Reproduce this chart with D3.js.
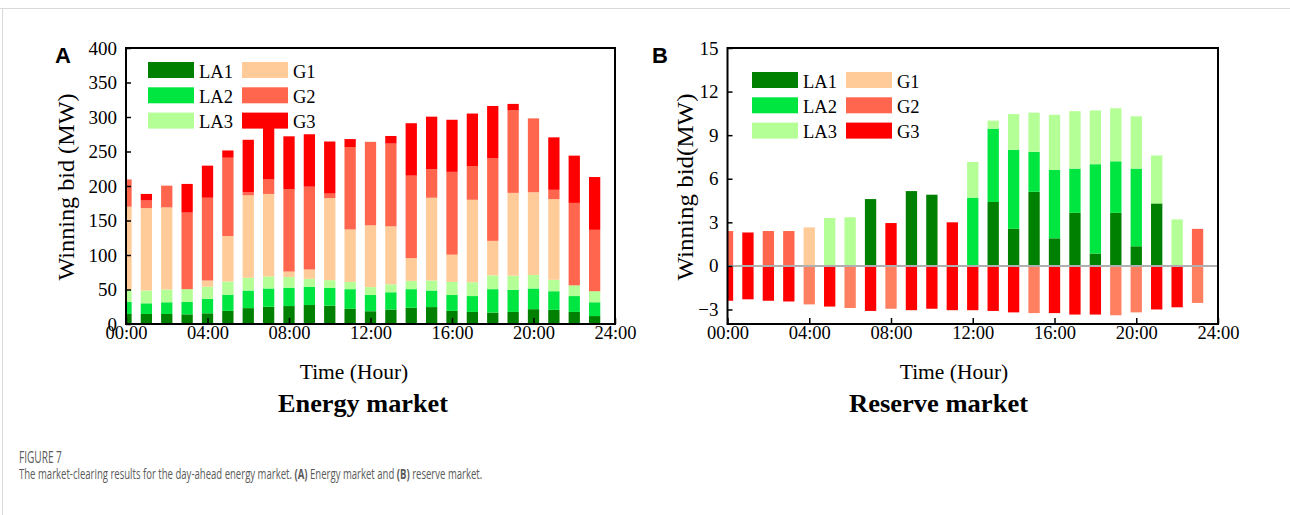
<!DOCTYPE html>
<html><head><meta charset="utf-8">
<script src="https://cdn.jsdelivr.net/npm/d3@7/dist/d3.min.js"></script>
<style>
html,body{margin:0;padding:0;background:#fff;}
svg{display:block;}
</style></head>
<body>
<svg id="chart" width="1290" height="515"></svg>
<script>
// ---------- DATA ----------
const hours = [0,1,2,3,4,5,6,7,8,9,10,11,12,13,14,15,16,17,18,19,20,21,22,23];
const xTickValues = [0,4,8,12,16,20,24];
const xTickLabels = ["00:00","04:00","08:00","12:00","16:00","20:00","24:00"];
const yTicksA = [0,50,100,150,200,250,300,350,400];
const yTicksB = [-3,0,3,6,9,12,15];
const seriesNames = ["LA1","LA2","LA3","G1","G2","G3"];

// Panel A: energy market (MW)
const energyLA1 = [14.5,14.5,14.5,14,15.5,19,23,25,26,27.5,26.5,22,18.5,21,23.5,24.5,19,17.5,16.5,17.5,21.5,20.5,17.5,11.5];
const energyLA2 = [17.5,15.5,17,18,21,23.5,25.5,26.5,26.5,26.5,26,28.5,23.5,25,27,24,23,23,34,32,30,27,23,20];
const energyLA3 = [18,18.5,18.5,18.5,17.5,19,18.5,17.5,15.5,11.5,11,10.5,11.5,11.5,12,14.5,19,20,20,20.5,19.5,16.5,15.5,16];
const energyG1  = [120,119.5,119,0,9,66,119.5,119.5,8,13.5,119,76,89.5,84,33,120,39.5,119.5,50,120,120,117,0,0];
const energyG2  = [39.5,11,31.5,111,120,113.5,4.5,21,119.5,120,6.5,119.5,121,120,119.5,41.5,120,49,119.5,120,107,13.5,119.5,89];
const energyG3  = [0,9.5,0,41.5,46.5,10.5,76,80,76.5,76,75.5,11.5,0,11,76,76,75.5,76,76,9,0,76,68.5,76.5];

// Panel B: reserve market (MW) — upward (positive) and downward (negative)
const reserveLA1 = [0,0,0,0,0,0,0,4.6,0,5.15,4.9,0,0,4.4,2.55,5.1,1.9,3.65,0.85,3.65,1.35,4.3,0,0];
const reserveLA2 = [0,0,0,0,0,0,0,0,0,0,0,0,4.7,5.05,5.45,2.75,4.7,3.05,6.15,3.55,5.35,0,0,0];
const reserveLA3 = [0,0,0,0,0,3.3,3.35,0,0,0,0,0,2.45,0.55,2.45,2.7,3.8,3.95,3.7,3.65,3.6,3.3,3.2,0];
const reserveG1up = [0,0,0,0,2.65,0,0,0,0,0,0,0,0,0,0,0,0,0,0,0,0,0,0,0];
const reserveG2up = [2.4,0,2.4,2.4,0,0,0,0,0,0,0,0,0,0,0,0,0,0,0,0,0,0,0,2.55];
const reserveG3up = [0,2.3,0,0,0,0,0,0,2.95,0,0,3.0,0,0,0,0,0,0,0,0,0,0,0,0];
const reserveG2dn = [0,0,0,0,-2.65,0,-2.9,0,-2.95,0,0,0,0,0,0,-3.25,0,0,0,-3.4,-3.2,0,0,-2.55];
const reserveG3dn = [-2.4,-2.3,-2.4,-2.45,0,-2.8,0,-3.1,0,-3.05,-2.95,-3.05,-3.05,-3.1,-3.2,0,-3.25,-3.35,-3.35,0,0,-3.0,-2.85,0];

// ---------- STYLE ----------
const colors = {LA1:"#008000",LA2:"#00E640",LA3:"#B4FF96",G1:"#FFCC99",G2:"#FF664D",G3:"#FF0000",G2dn:"#FF8060",G3dn:"#FF0000"};
const serif = "'Liberation Serif','Times New Roman',serif";
const barW = 0.554;

const svg = d3.select("#chart");

// card border
svg.append("line").attr("x1",0).attr("x2",1290).attr("y1",8.5).attr("y2",8.5).attr("stroke","#d9d9d9").attr("stroke-width",1);
svg.append("line").attr("x1",2.5).attr("x2",2.5).attr("y1",8.5).attr("y2",515).attr("stroke","#d9d9d9").attr("stroke-width",1);

function panel(opts){
  const {id,x,y,yTicks,stackData,keys,letter,letterX,yTitle,yTitleX,title,titleX,titleLen,xTitleX,legendX,legendY,legendCol2,zeroLine} = opts;
  const g = svg.append("g");
  const [x0,x1] = x.range(), [yb,yt] = y.range();
  g.append("clipPath").attr("id","clip"+id).append("rect")
    .attr("x",x0).attr("y",yt).attr("width",x1-x0).attr("height",yb-yt);
  const bars = g.append("g").attr("clip-path","url(#clip"+id+")");
  const stacked = d3.stack().keys(keys).offset(d3.stackOffsetDiverging)(stackData);
  stacked.forEach(s=>{
    bars.append("g").attr("fill",colors[s.key]).selectAll("rect")
      .data(s.filter(d=>d[1]!==d[0])).join("rect")
      .attr("x",d=>x(d.data.hour - barW/2))
      .attr("width",x(barW)-x(0))
      .attr("y",d=>y(Math.max(d[0],d[1])))
      .attr("height",d=>Math.abs(y(d[0])-y(d[1])));
  });
  if(zeroLine){
    g.append("line").attr("x1",x0).attr("x2",x1).attr("y1",y(0)).attr("y2",y(0))
      .attr("stroke","#b0b0b0").attr("stroke-width",2);
  }
  // axes with inward ticks
  const ax = g.append("g").attr("transform",`translate(0,${yb})`)
    .call(d3.axisBottom(x).tickValues(xTickValues).tickFormat((d,i)=>xTickLabels[i]).tickSizeInner(-6).tickSizeOuter(0).tickPadding(2));
  const ay = g.append("g").attr("transform",`translate(${x0},0)`)
    .call(d3.axisLeft(y).tickValues(yTicks).tickFormat(d3.format("d")).tickSizeInner(-5).tickSizeOuter(0).tickPadding(9));
  [ax,ay].forEach(a=>{
    a.select(".domain").remove();
    a.selectAll(".tick line").attr("stroke","#000").attr("stroke-width",1.5);
    a.selectAll("text").attr("font-family",serif).attr("font-size",18.5).attr("fill","#000");
  });
  ay.selectAll("text").attr("font-size",19);
  // frame
  g.append("rect").attr("x",x0).attr("y",yt).attr("width",x1-x0).attr("height",yb-yt)
    .attr("fill","none").attr("stroke","#000").attr("stroke-width",2);
  // legend
  const leg = g.append("g");
  seriesNames.forEach((k,i)=>{
    const col = i<3?0:1, row = i%3;
    const lx = legendX + col*legendCol2, ly = legendY + row*25.3;
    leg.append("rect").attr("x",lx).attr("y",ly).attr("width",46).attr("height",16).attr("fill",colors[k]);
    leg.append("text").attr("x",lx+51).attr("y",ly+15.5).text(k)
      .attr("font-family",serif).attr("font-size",18.5).attr("fill","#000");
  });
  // letter
  g.append("text").attr("x",letterX).attr("y",63).text(letter)
    .attr("font-family","'Liberation Sans',Arial,sans-serif").attr("font-weight","bold").attr("font-size",22).attr("fill","#000");
  // y title
  g.append("text").attr("transform",`translate(${yTitleX},${(yb+yt)/2+1}) rotate(-90)`)
    .attr("text-anchor","middle").text(yTitle)
    .attr("font-family",serif).attr("font-size",23.5).attr("fill","#000")
    .attr("textLength",187).attr("lengthAdjust","spacingAndGlyphs");
  // x title
  g.append("text").attr("x",xTitleX).attr("y",378.5).attr("text-anchor","middle").text("Time (Hour)")
    .attr("font-family",serif).attr("font-size",21.5).attr("fill","#000");
  g.append("text").attr("x",titleX).attr("y",412).attr("text-anchor","middle").text(title)
    .attr("font-family",serif).attr("font-weight","bold").attr("font-size",25).attr("fill","#000")
    .attr("textLength",titleLen).attr("lengthAdjust","spacingAndGlyphs");
}

// Panel A
const dataA = hours.map((h,i)=>({hour:h,LA1:energyLA1[i],LA2:energyLA2[i],LA3:energyLA3[i],G1:energyG1[i],G2:energyG2[i],G3:energyG3[i]}));
panel({id:"A",x:d3.scaleLinear([0,24],[126,615]),y:d3.scaleLinear([0,400],[324,48]),yTicks:yTicksA,
  stackData:dataA,keys:seriesNames,letter:"A",letterX:55,yTitle:"Winning bid (MW)",yTitleX:73.5,
  title:"Energy market",titleX:363,titleLen:170,xTitleX:354,legendX:148,legendY:62,legendCol2:94,zeroLine:false});

// Panel B
const dataB = hours.map((h,i)=>({hour:h,LA1:reserveLA1[i],LA2:reserveLA2[i],LA3:reserveLA3[i],
  G1:reserveG1up[i],G2:reserveG2up[i],G3:reserveG3up[i],G2dn:reserveG2dn[i],G3dn:reserveG3dn[i]}));
panel({id:"B",x:d3.scaleLinear([0,24],[727.5,1218]),y:d3.scaleLinear([-4,15],[324,48]),yTicks:yTicksB,
  stackData:dataB,keys:["LA1","LA2","LA3","G1","G2","G3","G2dn","G3dn"],letter:"B",letterX:652,yTitle:"Winning bid(MW)",yTitleX:693,
  title:"Reserve market",titleX:938.5,titleLen:179,xTitleX:954,legendX:752,legendY:72,legendCol2:94,zeroLine:true});

// caption (horizontally condensed to match the reference width)
function condensed(textSel, x, targetW){
  const w = textSel.node().getBBox().width;
  textSel.attr("transform",`translate(${x},0) scale(${targetW/w},1)`);
}
const fig = svg.append("text").attr("x",0).attr("y",463).text("FIGURE 7")
  .attr("font-family","'Open Sans','Noto Sans',sans-serif").attr("font-size",15.5).attr("fill","#5a5a5a");
condensed(fig,19,43);
const cap = svg.append("text").attr("x",0).attr("y",479)
  .attr("font-family","'Open Sans','Noto Sans',sans-serif").attr("font-size",14.5).attr("fill","#5a5a5a");
cap.append("tspan").text("The market-clearing results for the day-ahead energy market. ");
cap.append("tspan").attr("font-weight","bold").text("(A)");
cap.append("tspan").text(" Energy market and ");
cap.append("tspan").attr("font-weight","bold").text("(B)");
cap.append("tspan").text(" reserve market.");
condensed(cap,19,464);
</script>
</body></html>
